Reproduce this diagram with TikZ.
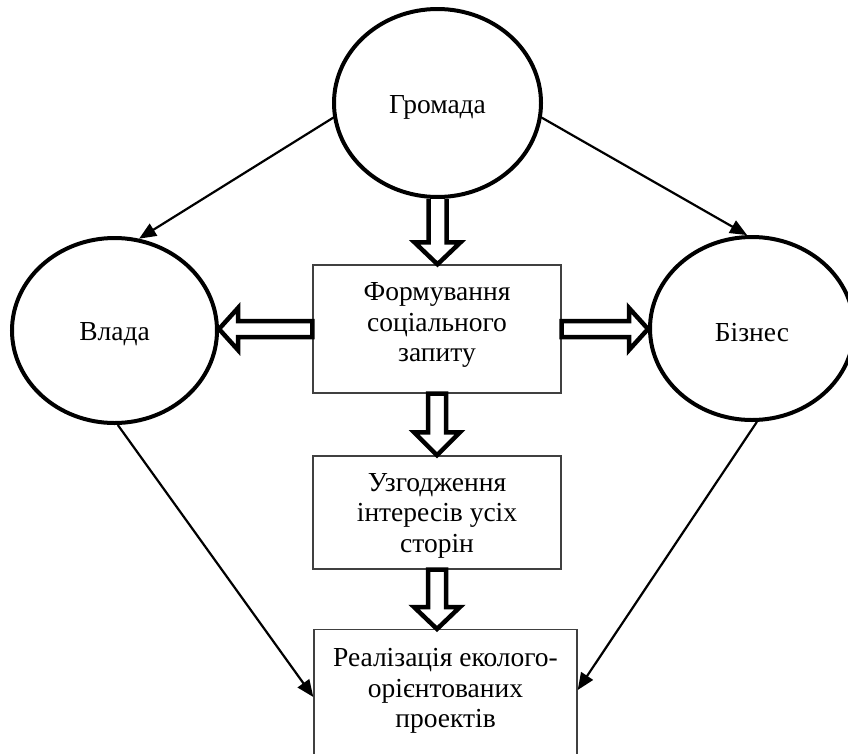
\documentclass[tikz,border=0pt]{standalone}
\usepackage{fontspec}
\setmainfont{Liberation Serif}
\usetikzlibrary{shapes.geometric,arrows.meta,calc}
\newcommand{\lowtext}[1]{\raisebox{-4pt}[\height][\depth]{#1}}
\begin{document}
\begin{tikzpicture}[x=1pt,y=-1pt,
  font=\fontsize{27.5}{30.5}\selectfont,
  ell/.style={ellipse,draw=black,line width=4pt,fill=white,inner sep=0pt},
  boxn/.style={rectangle,draw=black!75,line width=1.4pt,align=center,inner sep=0pt},
  txt/.style={align=center,inner sep=0pt},
  thinarr/.style={line width=2.2pt,-{Triangle[length=17pt,width=14pt]}},
  blk/.style={line width=4.5pt,line join=miter,fill=white,draw=black}]
\clip (0,0) rectangle (848,753);
% boxes
\node[boxn,minimum width=248,minimum height=128] (f) at (437,329) {};
\node[txt] (ft) at (437,325) {Формування\\соціального\\запиту};
\node[boxn,minimum width=248,minimum height=113] (u) at (437,512.5) {};
\node[txt] (ut) at (437,515.5) {Узгодження\\інтересів усіх\\сторін};
\node[boxn,minimum width=263,minimum height=150,anchor=north] (r3) at (445.5,629) {};
\node[txt] (r3t) at (445.5,691) {Реалізація еколого-\\орієнтованих\\проектів};
% ellipses
\node[ell,minimum width=207,minimum height=188] (g) at (437.5,103) {\lowtext{Громада}};
\node[ell,minimum width=205,minimum height=185] (v) at (114.5,330.5) {\lowtext{Влада}};
\node[ell,minimum width=204,minimum height=183] (b) at (752,328.5) {\lowtext{Бізнес}};
% block arrows
\draw[blk] let \p1=(g.south), \p2=(f.north) in
  (\x1-9pt,\y1) -- (\x1-9pt,\y2+22pt) -- (\x1-23pt,\y2+22pt) -- (\x1,\y2)
  -- (\x1+23pt,\y2+22pt) -- (\x1+9pt,\y2+22pt) -- (\x1+9pt,\y1);
\draw[blk] let \p1=(f.south), \p2=(u.north) in
  (\x1-9pt,\y1) -- (\x1-9pt,\y2+23pt) -- (\x1-23pt,\y2+23pt) -- (\x1,\y2)
  -- (\x1+23pt,\y2+23pt) -- (\x1+9pt,\y2+23pt) -- (\x1+9pt,\y1) -- cycle;
\draw[blk] let \p1=(u.south), \p2=(r3.north) in
  (\x1-9pt,\y1) -- (\x1-9pt,\y2+22pt) -- (\x1-23pt,\y2+22pt) -- (\x1,\y2)
  -- (\x1+23pt,\y2+22pt) -- (\x1+9pt,\y2+22pt) -- (\x1+9pt,\y1) -- cycle;
\draw[blk] let \p1=(f.west), \p2=(v.east) in
  (\x1,\y1+8pt) -- (\x2+19pt,\y1+8pt) -- (\x2+19pt,\y1+21pt) -- (\x2,\y1)
  -- (\x2+19pt,\y1-21pt) -- (\x2+19pt,\y1-8pt) -- (\x1,\y1-8pt) -- cycle;
\draw[blk] let \p1=(f.east), \p2=(b.west) in
  (\x1,\y1+8pt) -- (\x2-19pt,\y1+8pt) -- (\x2-19pt,\y1+21pt) -- (\x2,\y1)
  -- (\x2-19pt,\y1-21pt) -- (\x2-19pt,\y1-8pt) -- (\x1,\y1-8pt) -- cycle;
% thin arrows
\draw[thinarr] (g.188) -- (v.75);
\draw[thinarr] (g.-8) -- (b.93);
\draw[thinarr] (v.-88) -- ($(r3.north west)+(0,68)$);
\draw[thinarr] (b.-87) -- ($(r3.north east)+(0,61)$);
\end{tikzpicture}
\end{document}
